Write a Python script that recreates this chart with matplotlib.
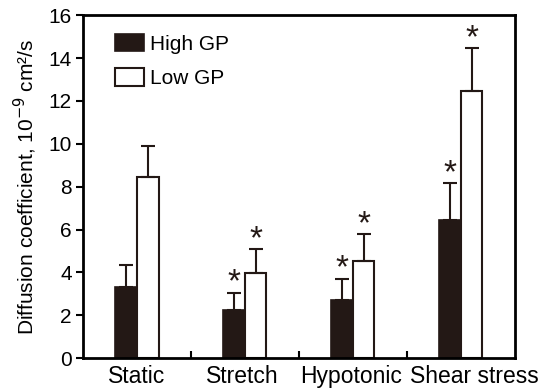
import numpy as np
import matplotlib.pyplot as plt

plt.rcParams['font.family'] = ['Liberation Sans', 'DejaVu Sans']

categories = ["Static", "Stretch", "Hypotonic", "Shear stress"]
high_gp = [3.3, 2.25, 2.7, 6.45]
high_err = [1.05, 0.8, 1.0, 1.7]
low_gp = [8.45, 3.95, 4.52, 12.45]
low_err = [1.45, 1.12, 1.25, 2.0]
high_sig = [False, True, True, True]
low_sig = [False, True, True, True]

dark = "#231815"

fig = plt.figure(figsize=(5.39, 3.88), dpi=100)
ax = fig.add_axes([0.154, 0.077, 0.801, 0.884])

x = np.arange(len(categories))
w = 0.2

ax.bar(x - w / 2, high_gp, width=w, color=dark, edgecolor=dark,
       linewidth=1.2, label="High GP")
ax.bar(x + w / 2, low_gp, width=w, color="white", edgecolor=dark,
       linewidth=1.5, label="Low GP")

# one-sided error bars
ax.errorbar(x - w / 2, high_gp, yerr=[np.zeros(4), high_err], fmt="none",
            ecolor=dark, elinewidth=1.5, capsize=5, capthick=1.5)
ax.errorbar(x + w / 2, low_gp, yerr=[np.zeros(4), low_err], fmt="none",
            ecolor=dark, elinewidth=1.5, capsize=5, capthick=1.5)

# significance stars
for i in range(len(categories)):
    if high_sig[i]:
        ax.text(x[i] - w / 2, high_gp[i] + high_err[i] + 0.45, "*",
                ha="center", va="center", fontsize=24, color=dark)
    if low_sig[i]:
        ax.text(x[i] + w / 2, low_gp[i] + low_err[i] + 0.45, "*",
                ha="center", va="center", fontsize=24, color=dark)

ax.set_xlim(-0.5, 3.5)
ax.set_ylim(0, 16)
ax.set_yticks(range(0, 17, 2))
# last label sits a bit right of its group, as in the original
ax.set_xticks([0, 0.98, 1.98, 3.13])
ax.set_xticklabels(categories)
ax.set_xticks([0.5, 1.5, 2.5], minor=True)
ax.tick_params(axis="x", which="major", length=0, labelsize=16.5, pad=5)
ax.tick_params(axis="x", which="minor", direction="in", length=5, width=1.5)
ax.tick_params(axis="y", direction="out", length=5, width=1.5,
               labelsize=15, pad=3)

for s in ax.spines.values():
    s.set_linewidth(2)

ax.set_ylabel("Diffusion coefficient, 10$^{-9}$ cm\u00b2/s", fontsize=15,
              labelpad=7)

ax.legend(loc="upper left", frameon=False, fontsize=15, handlelength=1.4,
          handleheight=0.9, borderaxespad=0.5, labelspacing=0.7,
          handletextpad=0.3, bbox_to_anchor=(0.03, 1.0))

fig.savefig("out.png", dpi=100)
